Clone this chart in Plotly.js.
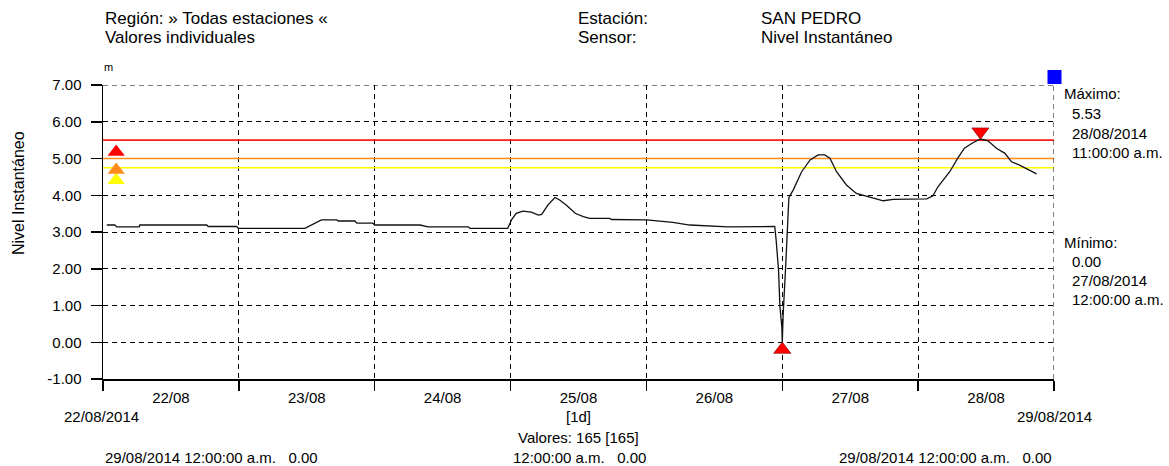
<!DOCTYPE html>
<html><head><meta charset="utf-8">
<script src="https://cdn.plot.ly/plotly-3.0.1.min.js"></script>
<style>html,body{margin:0;padding:0;background:#fff}</style>
</head><body><div id="chart" style="width:1169px;height:466px"></div>
<script>
// ---- data ----
const times = [
 '2014-08-22 00:40','2014-08-22 02:05','2014-08-22 02:25','2014-08-22 06:25','2014-08-22 06:30','2014-08-22 18:20',
 '2014-08-22 18:35','2014-08-22 23:35','2014-08-22 23:55','2014-08-23 11:40','2014-08-23 14:35','2014-08-23 17:20',
 '2014-08-23 17:35','2014-08-23 20:30','2014-08-23 20:50','2014-08-23 23:40','2014-08-24 00:00','2014-08-24 08:00',
 '2014-08-24 09:25','2014-08-24 16:30','2014-08-24 16:50','2014-08-24 23:30','2014-08-25 00:10','2014-08-25 01:00',
 '2014-08-25 02:10','2014-08-25 03:40','2014-08-25 04:55','2014-08-25 05:30','2014-08-25 06:35','2014-08-25 07:50',
 '2014-08-25 08:40','2014-08-25 09:55','2014-08-25 11:25','2014-08-25 12:50','2014-08-25 14:00','2014-08-25 17:30',
 '2014-08-25 17:50','2014-08-26 00:00','2014-08-26 04:40','2014-08-26 07:40','2014-08-26 14:25','2014-08-26 22:40',
 '2014-08-26 22:55','2014-08-26 23:20','2014-08-26 23:35','2014-08-26 23:55','2014-08-27 00:00','2014-08-27 00:10',
 '2014-08-27 00:35','2014-08-27 00:55','2014-08-27 01:10','2014-08-27 01:55','2014-08-27 03:25','2014-08-27 04:55',
 '2014-08-27 06:20','2014-08-27 07:30','2014-08-27 08:25','2014-08-27 09:35','2014-08-27 11:20','2014-08-27 13:05',
 '2014-08-27 15:30','2014-08-27 17:50','2014-08-27 19:35','2014-08-28 00:20','2014-08-28 01:30','2014-08-28 02:35',
 '2014-08-28 03:30','2014-08-28 04:25','2014-08-28 05:35','2014-08-28 07:00','2014-08-28 08:10','2014-08-28 09:40',
 '2014-08-28 11:00','2014-08-28 12:20','2014-08-28 13:50','2014-08-28 15:20','2014-08-28 16:30','2014-08-28 17:55',
 '2014-08-28 19:25','2014-08-28 20:55'];
const levels = [
 3.19,3.19,3.14,3.14,3.19,3.19,
 3.15,3.15,3.10,3.10,3.33,3.33,
 3.30,3.30,3.24,3.24,3.19,3.19,
 3.14,3.14,3.10,3.10,3.33,3.51,
 3.57,3.54,3.46,3.48,3.73,3.94,
 3.87,3.72,3.51,3.42,3.37,3.37,
 3.34,3.33,3.26,3.19,3.14,3.15,
 2.78,1.97,0.97,0.42,0.00,0.80,
 2.02,3.14,3.94,4.14,4.64,4.96,
 5.10,5.10,5.01,4.64,4.28,4.05,
 3.94,3.85,3.89,3.89,3.90,3.98,
 4.23,4.41,4.64,5.01,5.28,5.43,
 5.53,5.48,5.28,5.14,4.91,4.82,
 4.69,4.58];
const xStart = '2014-08-22 00:00';
const xEnd = '2014-08-29 00:00';
const yMin = -1, yMax = 7;
const thresholdLevels = [5.5, 5.0, 4.75];
const thresholdColors = ['#ff1a1a', '#ff8c1a', '#ffff00'];
const thresholdMarkerTime = '2014-08-22 02:20';
const thresholdMarkerLevels = [5.18, 4.69, 4.41];
const yTickVals = [-1, 0, 1, 2, 3, 4, 5, 6, 7];
const yTickText = ['-1.00', '0.00', '1.00', '2.00', '3.00', '4.00', '5.00', '6.00', '7.00'];
const maxTime = '2014-08-28 11:00', maxLabelDate = '28/08/2014', maxLabelTime = '11:00:00 a.m.';
const minTime = '2014-08-27 00:00', minLabelDate = '27/08/2014', minLabelTime = '12:00:00 a.m.';

// ---- layout helpers (pixel -> paper) ----
const L = 103, R = 1054, T = 85, B = 379;
const px = x => (x - L) / (R - L);
const py = y => (B - y) / (B - T);
const FONT = 'Liberation Sans, Arial, sans-serif';
function ann(text, x, y, o) {
  return Object.assign({text: text, xref: 'paper', yref: 'paper', x: px(x), y: py(y), showarrow: false,
    xanchor: 'left', yanchor: 'middle', font: {family: FONT, size: 15, color: '#000'}}, o || {});
}
const HF = {family: FONT, size: 17, color: '#000'};

const maxV = Math.max(...levels), minV = Math.min(...levels);
const markerOffset = 0.2;

const traces = [];
thresholdLevels.forEach((lv, i) => traces.push({
  x: [xStart, xEnd], y: [lv, lv], mode: 'lines', line: {color: thresholdColors[i], width: 1.6},
  hoverinfo: 'skip'}));
traces.push({x: times, y: levels, mode: 'lines', line: {color: '#111', width: 1.3}, hoverinfo: 'x+y'});
traces.push({x: [thresholdMarkerTime, thresholdMarkerTime, thresholdMarkerTime],
  y: [thresholdMarkerLevels[2], thresholdMarkerLevels[1], thresholdMarkerLevels[0]], mode: 'markers',
  marker: {symbol: 'triangle-up', size: 15, color: [thresholdColors[2], thresholdColors[1], '#ff0000']}, hoverinfo: 'skip'});
traces.push({x: [minTime], y: [minV - markerOffset], mode: 'markers', cliponaxis: false,
  marker: {symbol: 'triangle-up', size: 15, color: '#ff0000', line: {color: '#800000', width: 0.6}}});
traces.push({x: [maxTime], y: [maxV + markerOffset], mode: 'markers', cliponaxis: false,
  marker: {symbol: 'triangle-down', size: 15, color: '#ff0000', line: {color: '#800000', width: 0.6}}});

const annotations = [
  ann('Región: » Todas estaciones «', 103, 18, {font: HF}),
  ann('Valores individuales', 103, 37, {font: HF}),
  ann('Estación:', 576, 18, {font: HF}),
  ann('Sensor:', 576, 37, {font: HF}),
  ann('SAN PEDRO', 759, 18, {font: HF}),
  ann('Nivel Instantáneo', 759, 37, {font: HF}),
  ann('m', 108, 67, {xanchor: 'center', font: {family: FONT, size: 11, color: '#000'}}),
  ann('Nivel Instantáneo', 18, 193, {xanchor: 'center', textangle: -90, font: {family: FONT, size: 16, color: '#000'}}),
  ann('Máximo:', 1062, 93),
  ann(maxV.toFixed(2), 1070, 113),
  ann(maxLabelDate, 1070, 133),
  ann(maxLabelTime, 1070, 152),
  ann('Mínimo:', 1062, 243),
  ann(minV.toFixed(2), 1070, 261),
  ann(minLabelDate, 1070, 280),
  ann(minLabelTime, 1070, 299),
  ann('22/08/2014', 101, 416, {xanchor: 'center'}),
  ann('29/08/2014', 1054, 416, {xanchor: 'center'}),
  ann('[1d]', 578, 416, {xanchor: 'center'}),
  ann('Valores: 165 [165]', 578, 437, {xanchor: 'center'}),
  ann('29/08/2014 12:00:00 a.m.   0.00', 103, 457),
  ann('12:00:00 a.m.   0.00', 579, 457, {xanchor: 'center'}),
  ann('29/08/2014 12:00:00 a.m.   0.00', 1054, 457, {xanchor: 'right'})
];

const GRID_DASH = '5px,4px';
const shapes = [
  {type: 'rect', xref: 'paper', yref: 'paper', x0: px(1047.5), x1: px(1061.5), y0: py(84), y1: py(70),
   fillcolor: '#0000ff', line: {width: 0}},
  // top and right border grid lines (dashed, as in the reference)
  {type: 'line', xref: 'x', yref: 'y', x0: xStart, x1: xEnd, y0: yMax, y1: yMax,
   line: {color: '#000', width: 1, dash: GRID_DASH}},
  {type: 'line', xref: 'x', yref: 'y', x0: xEnd, x1: xEnd, y0: yMin, y1: yMax,
   line: {color: '#000', width: 1, dash: GRID_DASH}}
];

const layout = {
  width: 1169, height: 466,
  margin: {l: L, r: 1169 - R, t: T, b: 466 - B, pad: 0},
  paper_bgcolor: '#fff', plot_bgcolor: '#fff', showlegend: false,
  font: {family: FONT, size: 15, color: '#000'},
  xaxis: {type: 'date', range: [xStart, xEnd], tick0: xStart, dtick: 86400000, tickformat: '%d/%m',
    ticklabelmode: 'period', showgrid: true, gridcolor: '#000', gridwidth: 1, griddash: GRID_DASH,
    showline: true, linecolor: '#000', linewidth: 1.5, ticks: 'outside', ticklen: 10, tickwidth: 1.5,
    tickcolor: '#000', zeroline: false, ticklabelstandoff: -6, tickfont: {family: FONT, size: 15, color: '#000'}},
  yaxis: {range: [yMin, yMax], tickmode: 'array', tickvals: yTickVals, ticktext: yTickText,
    showgrid: true, gridcolor: '#000', gridwidth: 1, griddash: GRID_DASH,
    showline: true, linecolor: '#000', linewidth: 1.5, ticks: 'outside', ticklen: 11, tickwidth: 1.5,
    tickcolor: '#000', zeroline: false, ticklabelstandoff: 6, tickfont: {family: FONT, size: 15, color: '#000'}},
  annotations: annotations, shapes: shapes
};
Plotly.newPlot('chart', traces, layout, {staticPlot: true, displayModeBar: false});
</script></body></html>
